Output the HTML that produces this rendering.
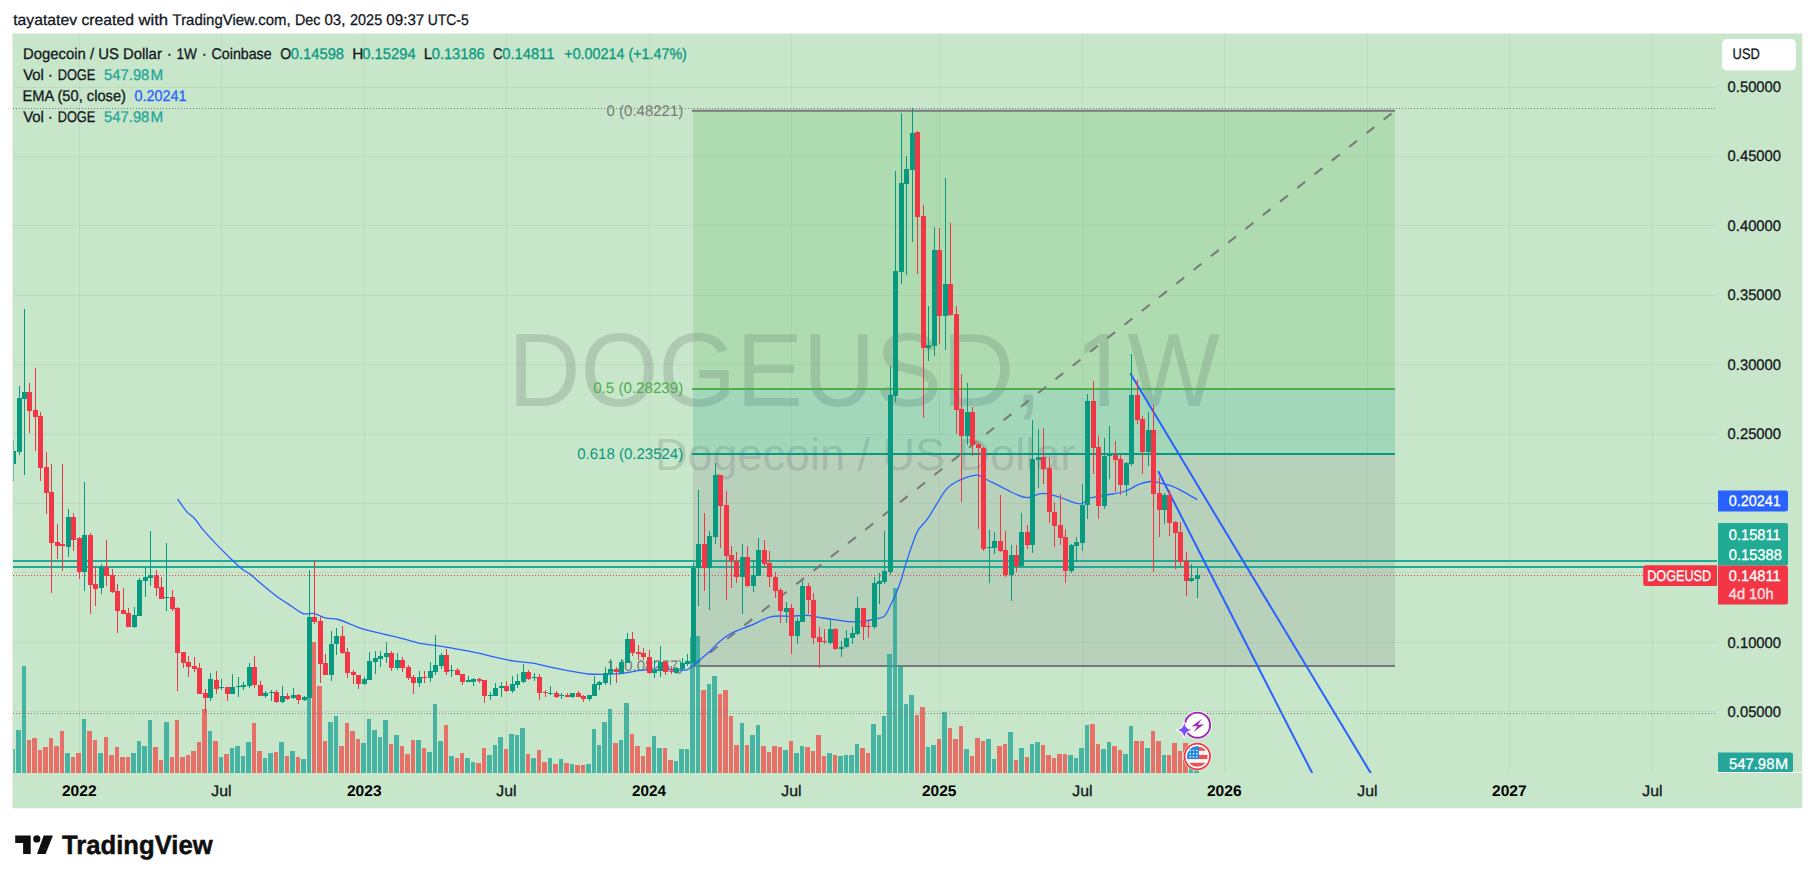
<!DOCTYPE html>
<html lang="en"><head><meta charset="utf-8"><title>DOGEUSD 1W - TradingView chart snapshot</title>
<style>html,body{margin:0;padding:0;background:#fff;}body{width:1815px;height:883px;overflow:hidden;}svg{display:block;}text{font-family:'Liberation Sans', Arial, Helvetica, sans-serif;text-rendering:geometricPrecision;}</style>
</head><body>
<svg width="1815" height="883" viewBox="0 0 1815 883">
<defs><clipPath id="pane"><rect x="13" y="34" width="1704" height="739"/></clipPath>
<clipPath id="flagclip"><circle cx="1197.3" cy="756.5" r="10.3"/></clipPath></defs>
<rect x="0" y="0" width="1815" height="883" fill="#ffffff"/>
<text x="13.26" y="24.8" font-size="15.4" fill="#131722" stroke="#131722" stroke-width="0.3" textLength="63.79" lengthAdjust="spacingAndGlyphs">tayatatev</text>
<text x="81.53" y="24.8" font-size="15.4" fill="#131722" stroke="#131722" stroke-width="0.3" textLength="52.38" lengthAdjust="spacingAndGlyphs">created</text>
<text x="138.42" y="24.8" font-size="15.4" fill="#131722" stroke="#131722" stroke-width="0.3" textLength="29.66" lengthAdjust="spacingAndGlyphs">with</text>
<text x="172.57" y="24.8" font-size="15.4" fill="#131722" stroke="#131722" stroke-width="0.3" textLength="118.06" lengthAdjust="spacingAndGlyphs">TradingView.com,</text>
<text x="295.03" y="24.8" font-size="15.4" fill="#131722" stroke="#131722" stroke-width="0.3" textLength="25.45" lengthAdjust="spacingAndGlyphs">Dec</text>
<text x="324.51" y="24.8" font-size="15.4" fill="#131722" stroke="#131722" stroke-width="0.3" textLength="20.94" lengthAdjust="spacingAndGlyphs">03,</text>
<text x="349.97" y="24.8" font-size="15.4" fill="#131722" stroke="#131722" stroke-width="0.3" textLength="32.24" lengthAdjust="spacingAndGlyphs">2025</text>
<text x="386.31" y="24.8" font-size="15.4" fill="#131722" stroke="#131722" stroke-width="0.3" textLength="37.96" lengthAdjust="spacingAndGlyphs">09:37</text>
<text x="427.72" y="24.8" font-size="15.4" fill="#131722" stroke="#131722" stroke-width="0.3" textLength="41.06" lengthAdjust="spacingAndGlyphs">UTC-5</text>
<rect x="12.5" y="33.5" width="1789.5" height="774.5" fill="#c8e6c9" stroke="#e9ece9" stroke-width="1"/>
<rect x="13" y="34" width="1789" height="774" fill="#c8e6c9"/>
<g fill="rgba(42,46,57,0.06)" shape-rendering="crispEdges">
<rect x="79" y="34" width="1" height="739"/>
<rect x="221" y="34" width="1" height="739"/>
<rect x="364" y="34" width="1" height="739"/>
<rect x="506" y="34" width="1" height="739"/>
<rect x="649" y="34" width="1" height="739"/>
<rect x="791" y="34" width="1" height="739"/>
<rect x="939" y="34" width="1" height="739"/>
<rect x="1082" y="34" width="1" height="739"/>
<rect x="1224" y="34" width="1" height="739"/>
<rect x="1367" y="34" width="1" height="739"/>
<rect x="1509" y="34" width="1" height="739"/>
<rect x="1652" y="34" width="1" height="739"/>
<rect x="13" y="87" width="1704" height="1"/>
<rect x="13" y="156" width="1704" height="1"/>
<rect x="13" y="225" width="1704" height="1"/>
<rect x="13" y="295" width="1704" height="1"/>
<rect x="13" y="364" width="1704" height="1"/>
<rect x="13" y="434" width="1704" height="1"/>
<rect x="13" y="503" width="1704" height="1"/>
<rect x="13" y="572" width="1704" height="1"/>
<rect x="13" y="642" width="1704" height="1"/>
<rect x="13" y="711" width="1704" height="1"/>
</g>
<text x="508.19" y="405.6" font-size="104.4" fill="rgba(80,83,94,0.2)" textLength="533.80" lengthAdjust="spacingAndGlyphs">DOGEUSD,</text>
<clipPath id="one"><rect x="1060" y="320" width="70" height="77.9"/><rect x="1099.4" y="397" width="9.6" height="10"/></clipPath>
<text x="1074.6" y="405.6" font-size="104.4" fill="rgba(80,83,94,0.2)" textLength="55.6" lengthAdjust="spacingAndGlyphs" clip-path="url(#one)">1</text>
<text x="1127.47" y="405.6" font-size="104.4" fill="rgba(80,83,94,0.2)" textLength="92.16" lengthAdjust="spacingAndGlyphs">W</text>
<text x="654.91" y="470.4" font-size="45.2" fill="rgba(80,83,94,0.2)" textLength="420.24" lengthAdjust="spacingAndGlyphs">Dogecoin / US Dollar</text>
<rect x="693" y="110.7" width="702" height="278.3" fill="#4caf50" fill-opacity="0.2"/>
<rect x="693" y="389" width="702" height="65" fill="#089981" fill-opacity="0.2"/>
<rect x="693" y="454" width="702" height="212" fill="#787b86" fill-opacity="0.2"/>
<rect x="13" y="560" width="1704" height="2" fill="#22ab94"/>
<rect x="13" y="566" width="1704" height="2" fill="#22ab94"/>
<line x1="692" y1="110.7" x2="1395" y2="110.7" stroke="#797779" stroke-width="2"/>
<line x1="692" y1="389" x2="1395" y2="389" stroke="#4caf50" stroke-width="2"/>
<line x1="692" y1="454" x2="1395" y2="454" stroke="#089981" stroke-width="2"/>
<line x1="692" y1="666" x2="1395" y2="666" stroke="#797779" stroke-width="2"/>
<line x1="1395" y1="110.7" x2="693" y2="666" stroke="#797779" stroke-width="2" stroke-dasharray="10 12.03" stroke-dashoffset="17.6"/>
<text x="606.61" y="115.8" font-size="15.3" fill="#7a787b" textLength="76.61" lengthAdjust="spacingAndGlyphs">0 (0.48221)</text>
<text x="593.21" y="392.7" font-size="15.3" fill="#4caf50" textLength="90.03" lengthAdjust="spacingAndGlyphs">0.5 (0.28239)</text>
<text x="577.21" y="458.6" font-size="15.3" fill="#089981" textLength="106.02" lengthAdjust="spacingAndGlyphs">0.618 (0.23524)</text>
<text x="606.86" y="670.6" font-size="15.3" fill="#7a787b" textLength="76.36" lengthAdjust="spacingAndGlyphs">1 (0.08257)</text>
<g clip-path="url(#pane)" stroke="#2962ff" stroke-width="2" stroke-linecap="round">
<line x1="1130.7" y1="374.1" x2="1371" y2="773.5"/>
<line x1="1158.5" y1="471.7" x2="1312.4" y2="773.5"/>
</g>
<g clip-path="url(#pane)" shape-rendering="crispEdges" fill-opacity="0.8">
<rect x="13" y="749.2" width="1" height="23.8" fill="#26a69a" fill-opacity="0.45"/>
<rect x="14" y="749.2" width="1" height="23.8" fill="#26a69a"/>
<rect x="16" y="730.4" width="5" height="42.6" fill="#26a69a"/>
<rect x="22" y="666.3" width="4" height="106.7" fill="#26a69a"/>
<rect x="27" y="740.3" width="4" height="32.7" fill="#ef5350"/>
<rect x="32" y="738.3" width="5" height="34.7" fill="#ef5350"/>
<rect x="38" y="750.2" width="4" height="22.8" fill="#ef5350"/>
<rect x="43" y="747.2" width="5" height="25.8" fill="#ef5350"/>
<rect x="49" y="738.3" width="4" height="34.7" fill="#ef5350"/>
<rect x="54" y="746.2" width="5" height="26.8" fill="#ef5350"/>
<rect x="60" y="731.3" width="4" height="41.7" fill="#ef5350"/>
<rect x="65" y="753.2" width="5" height="19.8" fill="#26a69a"/>
<rect x="71" y="757.1" width="4" height="15.9" fill="#ef5350"/>
<rect x="76" y="753.2" width="5" height="19.8" fill="#ef5350"/>
<rect x="82" y="719.4" width="4" height="53.6" fill="#26a69a"/>
<rect x="87" y="731.3" width="5" height="41.7" fill="#ef5350"/>
<rect x="93" y="740.3" width="4" height="32.7" fill="#ef5350"/>
<rect x="98" y="753.2" width="5" height="19.8" fill="#26a69a"/>
<rect x="104" y="737.3" width="4" height="35.7" fill="#ef5350"/>
<rect x="109" y="755.1" width="5" height="17.9" fill="#ef5350"/>
<rect x="115" y="747.2" width="4" height="25.8" fill="#ef5350"/>
<rect x="120" y="757.1" width="5" height="15.9" fill="#ef5350"/>
<rect x="126" y="757.1" width="4" height="15.9" fill="#ef5350"/>
<rect x="131" y="753.2" width="5" height="19.8" fill="#26a69a"/>
<rect x="137" y="741.3" width="4" height="31.7" fill="#26a69a"/>
<rect x="142" y="746.2" width="5" height="26.8" fill="#26a69a"/>
<rect x="148" y="720.4" width="4" height="52.6" fill="#26a69a"/>
<rect x="153" y="747.2" width="5" height="25.8" fill="#ef5350"/>
<rect x="159" y="760.1" width="4" height="12.9" fill="#ef5350"/>
<rect x="164" y="722.4" width="5" height="50.6" fill="#26a69a"/>
<rect x="170" y="757.1" width="4" height="15.9" fill="#ef5350"/>
<rect x="175" y="720.4" width="4" height="52.6" fill="#ef5350"/>
<rect x="180" y="757.1" width="5" height="15.9" fill="#ef5350"/>
<rect x="186" y="755.1" width="4" height="17.9" fill="#ef5350"/>
<rect x="191" y="751.2" width="5" height="21.8" fill="#ef5350"/>
<rect x="197" y="742.3" width="4" height="30.7" fill="#ef5350"/>
<rect x="202" y="708.5" width="5" height="64.5" fill="#ef5350"/>
<rect x="208" y="731.3" width="4" height="41.7" fill="#26a69a"/>
<rect x="213" y="741.3" width="5" height="31.7" fill="#ef5350"/>
<rect x="219" y="757.1" width="4" height="15.9" fill="#26a69a"/>
<rect x="224" y="754.2" width="5" height="18.8" fill="#ef5350"/>
<rect x="230" y="748.2" width="4" height="24.8" fill="#26a69a"/>
<rect x="235" y="746.2" width="5" height="26.8" fill="#26a69a"/>
<rect x="241" y="756.1" width="4" height="16.9" fill="#26a69a"/>
<rect x="246" y="742.3" width="5" height="30.7" fill="#26a69a"/>
<rect x="252" y="723.4" width="4" height="49.6" fill="#ef5350"/>
<rect x="257" y="751.2" width="5" height="21.8" fill="#ef5350"/>
<rect x="263" y="758.1" width="4" height="14.9" fill="#26a69a"/>
<rect x="268" y="753.2" width="5" height="19.8" fill="#26a69a"/>
<rect x="274" y="752.2" width="4" height="20.8" fill="#ef5350"/>
<rect x="279" y="742.3" width="5" height="30.7" fill="#26a69a"/>
<rect x="285" y="756.1" width="4" height="16.9" fill="#ef5350"/>
<rect x="290" y="751.2" width="5" height="21.8" fill="#26a69a"/>
<rect x="296" y="757.1" width="4" height="15.9" fill="#ef5350"/>
<rect x="301" y="759.1" width="5" height="13.9" fill="#26a69a"/>
<rect x="307" y="623.0" width="4" height="150.0" fill="#26a69a"/>
<rect x="312" y="642.1" width="4" height="130.9" fill="#ef5350"/>
<rect x="317" y="686.2" width="5" height="86.8" fill="#ef5350"/>
<rect x="323" y="741.3" width="4" height="31.7" fill="#ef5350"/>
<rect x="328" y="722.4" width="5" height="50.6" fill="#26a69a"/>
<rect x="334" y="715.5" width="4" height="57.5" fill="#26a69a"/>
<rect x="339" y="746.2" width="5" height="26.8" fill="#ef5350"/>
<rect x="345" y="723.4" width="4" height="49.6" fill="#ef5350"/>
<rect x="350" y="731.3" width="5" height="41.7" fill="#ef5350"/>
<rect x="356" y="739.3" width="4" height="33.7" fill="#ef5350"/>
<rect x="361" y="743.2" width="5" height="29.8" fill="#26a69a"/>
<rect x="367" y="718.5" width="4" height="54.5" fill="#26a69a"/>
<rect x="372" y="730.4" width="5" height="42.6" fill="#26a69a"/>
<rect x="378" y="737.3" width="4" height="35.7" fill="#26a69a"/>
<rect x="383" y="720.4" width="5" height="52.6" fill="#26a69a"/>
<rect x="389" y="744.2" width="4" height="28.8" fill="#ef5350"/>
<rect x="394" y="735.3" width="5" height="37.7" fill="#26a69a"/>
<rect x="400" y="746.2" width="4" height="26.8" fill="#ef5350"/>
<rect x="405" y="754.2" width="5" height="18.8" fill="#ef5350"/>
<rect x="411" y="740.3" width="4" height="32.7" fill="#ef5350"/>
<rect x="416" y="740.3" width="5" height="32.7" fill="#26a69a"/>
<rect x="422" y="748.2" width="4" height="24.8" fill="#ef5350"/>
<rect x="427" y="752.2" width="5" height="20.8" fill="#26a69a"/>
<rect x="433" y="704.2" width="4" height="68.8" fill="#26a69a"/>
<rect x="438" y="741.3" width="5" height="31.7" fill="#26a69a"/>
<rect x="444" y="725.4" width="4" height="47.6" fill="#ef5350"/>
<rect x="449" y="756.1" width="5" height="16.9" fill="#26a69a"/>
<rect x="455" y="758.1" width="4" height="14.9" fill="#ef5350"/>
<rect x="460" y="753.2" width="4" height="19.8" fill="#ef5350"/>
<rect x="465" y="758.1" width="5" height="14.9" fill="#26a69a"/>
<rect x="471" y="762.1" width="4" height="10.9" fill="#26a69a"/>
<rect x="476" y="763.1" width="5" height="9.9" fill="#ef5350"/>
<rect x="482" y="748.2" width="4" height="24.8" fill="#ef5350"/>
<rect x="487" y="755.1" width="5" height="17.9" fill="#26a69a"/>
<rect x="493" y="745.2" width="4" height="27.8" fill="#26a69a"/>
<rect x="498" y="737.3" width="5" height="35.7" fill="#26a69a"/>
<rect x="504" y="749.2" width="4" height="23.8" fill="#ef5350"/>
<rect x="509" y="734.3" width="5" height="38.7" fill="#26a69a"/>
<rect x="515" y="735.3" width="4" height="37.7" fill="#26a69a"/>
<rect x="520" y="728.4" width="5" height="44.6" fill="#26a69a"/>
<rect x="526" y="754.2" width="4" height="18.8" fill="#ef5350"/>
<rect x="531" y="758.1" width="5" height="14.9" fill="#26a69a"/>
<rect x="537" y="750.2" width="4" height="22.8" fill="#ef5350"/>
<rect x="542" y="762.1" width="5" height="10.9" fill="#ef5350"/>
<rect x="548" y="758.1" width="4" height="14.9" fill="#26a69a"/>
<rect x="553" y="764.1" width="5" height="8.9" fill="#ef5350"/>
<rect x="559" y="759.1" width="4" height="13.9" fill="#26a69a"/>
<rect x="564" y="763.1" width="5" height="9.9" fill="#ef5350"/>
<rect x="570" y="764.1" width="4" height="8.9" fill="#26a69a"/>
<rect x="575" y="765.1" width="5" height="7.9" fill="#ef5350"/>
<rect x="581" y="765.1" width="4" height="7.9" fill="#ef5350"/>
<rect x="586" y="764.1" width="5" height="8.9" fill="#26a69a"/>
<rect x="592" y="729.4" width="4" height="43.6" fill="#26a69a"/>
<rect x="597" y="745.2" width="4" height="27.8" fill="#26a69a"/>
<rect x="602" y="722.4" width="5" height="50.6" fill="#26a69a"/>
<rect x="608" y="708.5" width="4" height="64.5" fill="#26a69a"/>
<rect x="613" y="743.2" width="5" height="29.8" fill="#ef5350"/>
<rect x="619" y="740.3" width="4" height="32.7" fill="#26a69a"/>
<rect x="624" y="703.2" width="5" height="69.8" fill="#26a69a"/>
<rect x="630" y="734.3" width="4" height="38.7" fill="#ef5350"/>
<rect x="635" y="746.2" width="5" height="26.8" fill="#ef5350"/>
<rect x="641" y="756.1" width="4" height="16.9" fill="#ef5350"/>
<rect x="646" y="747.2" width="5" height="25.8" fill="#ef5350"/>
<rect x="652" y="736.3" width="4" height="36.7" fill="#26a69a"/>
<rect x="657" y="748.2" width="5" height="24.8" fill="#26a69a"/>
<rect x="663" y="748.2" width="4" height="24.8" fill="#ef5350"/>
<rect x="668" y="760.1" width="5" height="12.9" fill="#ef5350"/>
<rect x="674" y="761.1" width="4" height="11.9" fill="#26a69a"/>
<rect x="679" y="749.2" width="5" height="23.8" fill="#26a69a"/>
<rect x="685" y="749.2" width="4" height="23.8" fill="#26a69a"/>
<rect x="690" y="637.3" width="5" height="135.7" fill="#26a69a"/>
<rect x="696" y="636.3" width="4" height="136.7" fill="#26a69a"/>
<rect x="701" y="690.3" width="5" height="82.7" fill="#ef5350"/>
<rect x="707" y="684.3" width="4" height="88.7" fill="#26a69a"/>
<rect x="712" y="676.4" width="5" height="96.6" fill="#26a69a"/>
<rect x="718" y="694.2" width="4" height="78.8" fill="#ef5350"/>
<rect x="723" y="690.3" width="5" height="82.7" fill="#ef5350"/>
<rect x="729" y="715.5" width="4" height="57.5" fill="#ef5350"/>
<rect x="734" y="745.2" width="5" height="27.8" fill="#ef5350"/>
<rect x="740" y="723.4" width="4" height="49.6" fill="#26a69a"/>
<rect x="745" y="745.2" width="4" height="27.8" fill="#ef5350"/>
<rect x="750" y="735.3" width="5" height="37.7" fill="#26a69a"/>
<rect x="756" y="725.4" width="4" height="47.6" fill="#26a69a"/>
<rect x="761" y="746.2" width="5" height="26.8" fill="#ef5350"/>
<rect x="767" y="752.2" width="4" height="20.8" fill="#ef5350"/>
<rect x="772" y="746.2" width="5" height="26.8" fill="#ef5350"/>
<rect x="778" y="747.2" width="4" height="25.8" fill="#ef5350"/>
<rect x="783" y="750.2" width="5" height="22.8" fill="#26a69a"/>
<rect x="789" y="741.3" width="4" height="31.7" fill="#ef5350"/>
<rect x="794" y="753.2" width="5" height="19.8" fill="#26a69a"/>
<rect x="800" y="746.2" width="4" height="26.8" fill="#26a69a"/>
<rect x="805" y="747.2" width="5" height="25.8" fill="#ef5350"/>
<rect x="811" y="751.2" width="4" height="21.8" fill="#ef5350"/>
<rect x="816" y="735.3" width="5" height="37.7" fill="#ef5350"/>
<rect x="822" y="756.1" width="4" height="16.9" fill="#ef5350"/>
<rect x="827" y="753.2" width="5" height="19.8" fill="#26a69a"/>
<rect x="833" y="755.1" width="4" height="17.9" fill="#ef5350"/>
<rect x="838" y="756.1" width="5" height="16.9" fill="#26a69a"/>
<rect x="844" y="755.1" width="4" height="17.9" fill="#26a69a"/>
<rect x="849" y="755.1" width="5" height="17.9" fill="#26a69a"/>
<rect x="855" y="744.2" width="4" height="28.8" fill="#26a69a"/>
<rect x="860" y="748.2" width="5" height="24.8" fill="#ef5350"/>
<rect x="866" y="753.2" width="4" height="19.8" fill="#ef5350"/>
<rect x="871" y="724.4" width="5" height="48.6" fill="#26a69a"/>
<rect x="877" y="735.3" width="4" height="37.7" fill="#26a69a"/>
<rect x="882" y="715.5" width="4" height="57.5" fill="#26a69a"/>
<rect x="887" y="654.2" width="5" height="118.8" fill="#26a69a"/>
<rect x="893" y="588.2" width="4" height="184.8" fill="#26a69a"/>
<rect x="898" y="665.5" width="5" height="107.5" fill="#26a69a"/>
<rect x="904" y="704.2" width="4" height="68.8" fill="#26a69a"/>
<rect x="909" y="695.2" width="5" height="77.8" fill="#26a69a"/>
<rect x="915" y="714.5" width="4" height="58.5" fill="#ef5350"/>
<rect x="920" y="706.6" width="5" height="66.4" fill="#ef5350"/>
<rect x="926" y="747.2" width="4" height="25.8" fill="#26a69a"/>
<rect x="931" y="745.2" width="5" height="27.8" fill="#26a69a"/>
<rect x="937" y="739.3" width="4" height="33.7" fill="#ef5350"/>
<rect x="942" y="711.5" width="5" height="61.5" fill="#26a69a"/>
<rect x="948" y="728.4" width="4" height="44.6" fill="#ef5350"/>
<rect x="953" y="739.3" width="5" height="33.7" fill="#ef5350"/>
<rect x="959" y="726.4" width="4" height="46.6" fill="#ef5350"/>
<rect x="964" y="749.2" width="5" height="23.8" fill="#26a69a"/>
<rect x="970" y="756.1" width="4" height="16.9" fill="#ef5350"/>
<rect x="975" y="738.3" width="5" height="34.7" fill="#ef5350"/>
<rect x="981" y="741.3" width="4" height="31.7" fill="#ef5350"/>
<rect x="986" y="739.3" width="5" height="33.7" fill="#26a69a"/>
<rect x="992" y="759.1" width="4" height="13.9" fill="#26a69a"/>
<rect x="997" y="746.2" width="5" height="26.8" fill="#ef5350"/>
<rect x="1003" y="744.2" width="4" height="28.8" fill="#ef5350"/>
<rect x="1008" y="732.3" width="5" height="40.7" fill="#26a69a"/>
<rect x="1014" y="760.1" width="4" height="12.9" fill="#ef5350"/>
<rect x="1019" y="748.2" width="5" height="24.8" fill="#26a69a"/>
<rect x="1025" y="757.1" width="4" height="15.9" fill="#ef5350"/>
<rect x="1030" y="744.1" width="4" height="28.9" fill="#26a69a"/>
<rect x="1035" y="742.1" width="5" height="30.9" fill="#26a69a"/>
<rect x="1041" y="745.2" width="4" height="27.8" fill="#ef5350"/>
<rect x="1046" y="755.1" width="5" height="17.9" fill="#ef5350"/>
<rect x="1052" y="758.1" width="4" height="14.9" fill="#ef5350"/>
<rect x="1057" y="754.0" width="5" height="19.0" fill="#ef5350"/>
<rect x="1063" y="754.0" width="4" height="19.0" fill="#ef5350"/>
<rect x="1068" y="755.1" width="5" height="17.9" fill="#26a69a"/>
<rect x="1074" y="758.1" width="4" height="14.9" fill="#26a69a"/>
<rect x="1079" y="748.2" width="5" height="24.8" fill="#26a69a"/>
<rect x="1085" y="725.2" width="4" height="47.8" fill="#26a69a"/>
<rect x="1090" y="724.2" width="5" height="48.8" fill="#ef5350"/>
<rect x="1096" y="744.1" width="4" height="28.9" fill="#ef5350"/>
<rect x="1101" y="749.2" width="5" height="23.8" fill="#26a69a"/>
<rect x="1107" y="742.1" width="4" height="30.9" fill="#26a69a"/>
<rect x="1112" y="746.1" width="5" height="26.9" fill="#ef5350"/>
<rect x="1118" y="750.2" width="4" height="22.8" fill="#ef5350"/>
<rect x="1123" y="754.0" width="5" height="19.0" fill="#26a69a"/>
<rect x="1129" y="726.2" width="4" height="46.8" fill="#26a69a"/>
<rect x="1134" y="741.2" width="5" height="31.8" fill="#ef5350"/>
<rect x="1140" y="741.2" width="4" height="31.8" fill="#ef5350"/>
<rect x="1145" y="748.2" width="5" height="24.8" fill="#26a69a"/>
<rect x="1151" y="731.1" width="4" height="41.9" fill="#ef5350"/>
<rect x="1156" y="741.2" width="5" height="31.8" fill="#ef5350"/>
<rect x="1162" y="755.1" width="4" height="17.9" fill="#26a69a"/>
<rect x="1167" y="755.1" width="4" height="17.9" fill="#ef5350"/>
<rect x="1172" y="743.1" width="5" height="29.9" fill="#ef5350"/>
<rect x="1178" y="751.1" width="4" height="21.9" fill="#ef5350"/>
<rect x="1183" y="743.1" width="5" height="29.9" fill="#ef5350"/>
<rect x="1189" y="751.0" width="4" height="22.0" fill="#26a69a"/>
<rect x="1194" y="761.0" width="5" height="12.0" fill="#26a69a"/>
</g>
<line x1="13" y1="108.5" x2="1715" y2="108.5" stroke="#777777" stroke-width="1" stroke-dasharray="1 2"/>
<line x1="13" y1="713.5" x2="1715" y2="713.5" stroke="#777777" stroke-width="1" stroke-dasharray="1 2"/>
<line x1="13" y1="575.5" x2="1717" y2="575.5" stroke="#f23645" stroke-width="1" stroke-dasharray="1 2"/>
<path d="M177.6 498.9 C179.1 501.0 183.7 508.2 186.5 511.4 C189.3 514.6 191.6 515.2 194.4 518.3 C197.2 521.4 199.9 526.1 203.4 530.2 C206.9 534.3 210.5 538.1 215.3 543.1 C220.1 548.1 227.7 555.7 232.1 560.0 C236.5 564.3 238.8 566.4 242.0 568.9 C245.2 571.4 248.2 572.8 251.0 574.9 C253.8 577.0 254.8 578.3 258.9 581.8 C263.0 585.3 271.0 592.1 275.8 595.7 C280.6 599.3 283.2 600.7 287.7 603.6 C292.1 606.5 298.1 611.6 302.5 613.3 C306.9 615.0 310.6 612.8 314.4 613.6 C318.2 614.4 321.3 616.9 325.3 617.9 C329.3 618.9 333.9 618.4 338.2 619.5 C342.5 620.6 347.3 623.0 351.1 624.5 C354.9 626.0 357.5 627.2 361.0 628.4 C364.5 629.5 367.4 630.3 371.9 631.4 C376.4 632.5 382.2 633.7 387.8 635.0 C393.4 636.3 400.3 637.9 405.6 639.3 C410.9 640.7 414.5 642.3 419.5 643.3 C424.5 644.3 429.8 644.5 435.4 645.3 C441.0 646.1 445.9 647.0 453.2 648.3 C460.5 649.6 472.1 651.7 479.0 653.2 C485.9 654.7 488.9 655.9 494.9 657.2 C500.8 658.5 508.4 660.2 514.7 661.2 C521.0 662.2 526.5 662.1 532.5 663.1 C538.5 664.1 544.1 665.8 550.4 667.1 C556.7 668.4 563.9 670.0 570.2 671.1 C576.5 672.2 582.5 673.5 588.1 674.0 C593.7 674.5 598.0 674.5 603.9 674.4 C609.8 674.2 617.5 673.8 623.8 673.1 C630.1 672.4 636.0 670.6 641.6 670.1 C647.2 669.6 652.5 670.2 657.5 670.1 C662.5 670.0 667.6 669.3 671.4 669.3 C675.1 669.3 677.2 670.2 680.0 670.2 C682.8 670.2 684.9 670.8 687.9 669.3 C690.9 667.8 694.2 664.3 697.8 661.3 C701.4 658.3 706.1 654.7 709.7 651.4 C713.4 648.1 716.1 644.5 719.7 641.5 C723.4 638.5 726.3 635.9 731.6 633.2 C736.9 630.5 744.8 628.0 751.4 625.2 C758.0 622.5 764.6 618.2 771.2 616.7 C777.8 615.2 785.2 616.5 791.1 616.3 C797.0 616.1 802.3 615.1 806.9 615.3 C811.5 615.5 814.2 616.6 818.8 617.3 C823.4 618.0 829.4 619.0 834.7 619.7 C840.0 620.4 846.0 621.4 850.6 621.7 C855.2 622.0 857.9 621.9 862.5 621.3 C867.1 620.7 874.8 619.1 878.4 618.3 C882.0 617.5 882.8 617.4 884.3 616.3 C885.8 615.2 886.3 613.5 887.3 611.7 C888.3 610.0 888.7 608.9 890.2 605.8 C891.7 602.7 894.4 597.6 896.2 593.3 C898.0 589.0 899.5 585.0 901.1 580.0 C902.8 575.0 903.5 571.0 906.1 563.0 C908.8 555.0 913.4 539.7 917.0 532.2 C920.6 524.8 923.4 524.9 927.9 518.3 C932.4 511.7 939.8 498.2 943.8 492.6 C947.8 487.0 948.1 487.1 951.7 484.6 C955.3 482.1 961.3 479.3 965.6 477.7 C969.9 476.1 974.0 474.8 977.6 475.2 C981.2 475.6 983.7 478.1 987.5 480.0 C991.3 481.9 995.8 484.0 1000.4 486.3 C1005.0 488.6 1010.8 492.1 1015.3 494.0 C1019.8 495.9 1022.6 497.8 1027.2 497.7 C1031.8 497.6 1037.8 493.5 1043.1 493.4 C1048.4 493.3 1053.4 495.3 1059.0 497.0 C1064.6 498.7 1072.9 502.4 1076.9 503.4 C1080.9 504.4 1080.5 503.9 1082.8 503.0 C1085.1 502.1 1086.7 499.3 1090.7 498.0 C1094.7 496.7 1101.0 496.1 1106.6 495.0 C1112.2 493.9 1119.2 493.2 1124.5 491.5 C1129.8 489.8 1134.0 486.4 1138.3 484.7 C1142.6 483.0 1146.6 481.8 1150.2 481.5 C1153.8 481.2 1156.5 482.3 1160.1 483.1 C1163.7 483.9 1168.0 484.6 1172.0 486.1 C1176.0 487.6 1179.8 489.9 1184.0 492.1 C1188.2 494.4 1195.0 498.4 1197.2 499.6" fill="none" stroke="#2962ff" stroke-width="1.3" stroke-linejoin="round"/>
<g clip-path="url(#pane)" shape-rendering="crispEdges">
<rect x="13" y="440" width="1" height="41" fill="#089981" fill-opacity="0.5"/>
<rect x="14" y="451" width="2" height="13" fill="#089981"/>
<rect x="19" y="386" width="1" height="69" fill="#089981"/>
<rect x="17" y="398" width="5" height="54" fill="#089981"/>
<rect x="24" y="309" width="1" height="166" fill="#089981"/>
<rect x="22" y="392" width="5" height="7" fill="#089981"/>
<rect x="29" y="383" width="1" height="50" fill="#f23645"/>
<rect x="27" y="392" width="5" height="19" fill="#f23645"/>
<rect x="35" y="368" width="1" height="83" fill="#f23645"/>
<rect x="33" y="410" width="5" height="7" fill="#f23645"/>
<rect x="40" y="412" width="1" height="69" fill="#f23645"/>
<rect x="38" y="416" width="5" height="52" fill="#f23645"/>
<rect x="46" y="452" width="1" height="62" fill="#f23645"/>
<rect x="44" y="467" width="5" height="26" fill="#f23645"/>
<rect x="51" y="464" width="1" height="129" fill="#f23645"/>
<rect x="49" y="492" width="5" height="51" fill="#f23645"/>
<rect x="57" y="524" width="1" height="35" fill="#f23645"/>
<rect x="55" y="542" width="5" height="4" fill="#f23645"/>
<rect x="62" y="464" width="1" height="107" fill="#f23645"/>
<rect x="60" y="544" width="5" height="2" fill="#f23645"/>
<rect x="68" y="509" width="1" height="48" fill="#089981"/>
<rect x="66" y="517" width="5" height="30" fill="#089981"/>
<rect x="73" y="513" width="1" height="38" fill="#f23645"/>
<rect x="71" y="517" width="5" height="23" fill="#f23645"/>
<rect x="79" y="537" width="1" height="42" fill="#f23645"/>
<rect x="77" y="538" width="5" height="34" fill="#f23645"/>
<rect x="84" y="482" width="1" height="109" fill="#089981"/>
<rect x="82" y="535" width="5" height="37" fill="#089981"/>
<rect x="90" y="533" width="1" height="81" fill="#f23645"/>
<rect x="88" y="535" width="5" height="50" fill="#f23645"/>
<rect x="95" y="567" width="1" height="39" fill="#f23645"/>
<rect x="93" y="584" width="5" height="5" fill="#f23645"/>
<rect x="101" y="564" width="1" height="30" fill="#089981"/>
<rect x="99" y="567" width="5" height="21" fill="#089981"/>
<rect x="106" y="540" width="1" height="46" fill="#f23645"/>
<rect x="104" y="567" width="5" height="9" fill="#f23645"/>
<rect x="112" y="569" width="1" height="24" fill="#f23645"/>
<rect x="110" y="575" width="5" height="17" fill="#f23645"/>
<rect x="117" y="584" width="1" height="49" fill="#f23645"/>
<rect x="115" y="591" width="5" height="20" fill="#f23645"/>
<rect x="123" y="588" width="1" height="26" fill="#f23645"/>
<rect x="121" y="610" width="5" height="4" fill="#f23645"/>
<rect x="128" y="608" width="1" height="19" fill="#f23645"/>
<rect x="126" y="613" width="5" height="14" fill="#f23645"/>
<rect x="134" y="607" width="1" height="21" fill="#089981"/>
<rect x="132" y="615" width="5" height="12" fill="#089981"/>
<rect x="139" y="578" width="1" height="38" fill="#089981"/>
<rect x="137" y="580" width="5" height="36" fill="#089981"/>
<rect x="145" y="568" width="1" height="29" fill="#089981"/>
<rect x="143" y="577" width="5" height="4" fill="#089981"/>
<rect x="150" y="531" width="1" height="55" fill="#089981"/>
<rect x="148" y="575" width="5" height="3" fill="#089981"/>
<rect x="156" y="570" width="1" height="26" fill="#f23645"/>
<rect x="154" y="575" width="5" height="13" fill="#f23645"/>
<rect x="161" y="577" width="1" height="22" fill="#f23645"/>
<rect x="159" y="587" width="5" height="12" fill="#f23645"/>
<rect x="166" y="543" width="1" height="68" fill="#089981"/>
<rect x="164" y="597" width="5" height="1" fill="#089981"/>
<rect x="172" y="590" width="1" height="21" fill="#f23645"/>
<rect x="170" y="597" width="5" height="12" fill="#f23645"/>
<rect x="177" y="607" width="1" height="84" fill="#f23645"/>
<rect x="175" y="608" width="5" height="45" fill="#f23645"/>
<rect x="183" y="652" width="1" height="16" fill="#f23645"/>
<rect x="181" y="652" width="5" height="11" fill="#f23645"/>
<rect x="188" y="656" width="1" height="21" fill="#f23645"/>
<rect x="186" y="662" width="5" height="5" fill="#f23645"/>
<rect x="194" y="657" width="1" height="15" fill="#f23645"/>
<rect x="192" y="666" width="5" height="3" fill="#f23645"/>
<rect x="199" y="663" width="1" height="31" fill="#f23645"/>
<rect x="197" y="668" width="5" height="26" fill="#f23645"/>
<rect x="205" y="689" width="1" height="24" fill="#f23645"/>
<rect x="203" y="693" width="5" height="5" fill="#f23645"/>
<rect x="210" y="673" width="1" height="28" fill="#089981"/>
<rect x="208" y="679" width="5" height="19" fill="#089981"/>
<rect x="216" y="671" width="1" height="23" fill="#f23645"/>
<rect x="214" y="680" width="5" height="9" fill="#f23645"/>
<rect x="221" y="679" width="1" height="11" fill="#089981"/>
<rect x="219" y="687" width="5" height="1" fill="#089981"/>
<rect x="227" y="687" width="1" height="14" fill="#f23645"/>
<rect x="225" y="687" width="5" height="7" fill="#f23645"/>
<rect x="232" y="674" width="1" height="20" fill="#089981"/>
<rect x="230" y="687" width="5" height="7" fill="#089981"/>
<rect x="238" y="677" width="1" height="20" fill="#089981"/>
<rect x="236" y="686" width="5" height="1" fill="#089981"/>
<rect x="243" y="682" width="1" height="8" fill="#089981"/>
<rect x="241" y="685" width="5" height="2" fill="#089981"/>
<rect x="249" y="663" width="1" height="25" fill="#089981"/>
<rect x="247" y="667" width="5" height="19" fill="#089981"/>
<rect x="254" y="656" width="1" height="32" fill="#f23645"/>
<rect x="252" y="667" width="5" height="18" fill="#f23645"/>
<rect x="260" y="681" width="1" height="15" fill="#f23645"/>
<rect x="258" y="685" width="5" height="11" fill="#f23645"/>
<rect x="265" y="691" width="1" height="7" fill="#089981"/>
<rect x="263" y="693" width="5" height="3" fill="#089981"/>
<rect x="271" y="690" width="1" height="11" fill="#089981"/>
<rect x="269" y="692" width="5" height="1" fill="#089981"/>
<rect x="276" y="690" width="1" height="13" fill="#f23645"/>
<rect x="274" y="692" width="5" height="10" fill="#f23645"/>
<rect x="282" y="686" width="1" height="17" fill="#089981"/>
<rect x="280" y="696" width="5" height="6" fill="#089981"/>
<rect x="287" y="693" width="1" height="7" fill="#f23645"/>
<rect x="285" y="696" width="5" height="3" fill="#f23645"/>
<rect x="293" y="688" width="1" height="11" fill="#089981"/>
<rect x="291" y="695" width="5" height="3" fill="#089981"/>
<rect x="298" y="694" width="1" height="10" fill="#f23645"/>
<rect x="296" y="695" width="5" height="5" fill="#f23645"/>
<rect x="304" y="696" width="1" height="5" fill="#089981"/>
<rect x="302" y="697" width="5" height="3" fill="#089981"/>
<rect x="309" y="570" width="1" height="128" fill="#089981"/>
<rect x="307" y="617" width="5" height="81" fill="#089981"/>
<rect x="314" y="560" width="1" height="64" fill="#f23645"/>
<rect x="312" y="617" width="5" height="5" fill="#f23645"/>
<rect x="320" y="616" width="1" height="67" fill="#f23645"/>
<rect x="318" y="621" width="5" height="43" fill="#f23645"/>
<rect x="325" y="654" width="1" height="21" fill="#f23645"/>
<rect x="323" y="663" width="5" height="12" fill="#f23645"/>
<rect x="331" y="631" width="1" height="50" fill="#089981"/>
<rect x="329" y="644" width="5" height="31" fill="#089981"/>
<rect x="336" y="628" width="1" height="27" fill="#089981"/>
<rect x="334" y="636" width="5" height="8" fill="#089981"/>
<rect x="342" y="626" width="1" height="28" fill="#f23645"/>
<rect x="340" y="636" width="5" height="17" fill="#f23645"/>
<rect x="347" y="648" width="1" height="30" fill="#f23645"/>
<rect x="345" y="652" width="5" height="21" fill="#f23645"/>
<rect x="353" y="670" width="1" height="14" fill="#f23645"/>
<rect x="351" y="672" width="5" height="3" fill="#f23645"/>
<rect x="358" y="675" width="1" height="14" fill="#f23645"/>
<rect x="356" y="675" width="5" height="9" fill="#f23645"/>
<rect x="364" y="677" width="1" height="8" fill="#089981"/>
<rect x="362" y="679" width="5" height="5" fill="#089981"/>
<rect x="369" y="652" width="1" height="28" fill="#089981"/>
<rect x="367" y="661" width="5" height="19" fill="#089981"/>
<rect x="375" y="651" width="1" height="23" fill="#089981"/>
<rect x="373" y="658" width="5" height="4" fill="#089981"/>
<rect x="380" y="651" width="1" height="16" fill="#089981"/>
<rect x="378" y="656" width="5" height="3" fill="#089981"/>
<rect x="386" y="642" width="1" height="21" fill="#089981"/>
<rect x="384" y="653" width="5" height="4" fill="#089981"/>
<rect x="391" y="651" width="1" height="20" fill="#f23645"/>
<rect x="389" y="653" width="5" height="15" fill="#f23645"/>
<rect x="397" y="653" width="1" height="17" fill="#089981"/>
<rect x="395" y="660" width="5" height="8" fill="#089981"/>
<rect x="402" y="657" width="1" height="15" fill="#f23645"/>
<rect x="400" y="660" width="5" height="8" fill="#f23645"/>
<rect x="408" y="665" width="1" height="15" fill="#f23645"/>
<rect x="406" y="667" width="5" height="11" fill="#f23645"/>
<rect x="413" y="675" width="1" height="19" fill="#f23645"/>
<rect x="411" y="677" width="5" height="6" fill="#f23645"/>
<rect x="419" y="671" width="1" height="16" fill="#089981"/>
<rect x="417" y="677" width="5" height="6" fill="#089981"/>
<rect x="424" y="671" width="1" height="12" fill="#f23645"/>
<rect x="422" y="677" width="5" height="1" fill="#f23645"/>
<rect x="430" y="662" width="1" height="20" fill="#089981"/>
<rect x="428" y="671" width="5" height="7" fill="#089981"/>
<rect x="435" y="635" width="1" height="40" fill="#089981"/>
<rect x="433" y="665" width="5" height="7" fill="#089981"/>
<rect x="441" y="653" width="1" height="16" fill="#089981"/>
<rect x="439" y="655" width="5" height="11" fill="#089981"/>
<rect x="446" y="649" width="1" height="26" fill="#f23645"/>
<rect x="444" y="655" width="5" height="17" fill="#f23645"/>
<rect x="451" y="665" width="1" height="12" fill="#089981"/>
<rect x="449" y="670" width="5" height="1" fill="#089981"/>
<rect x="457" y="668" width="1" height="7" fill="#f23645"/>
<rect x="455" y="670" width="5" height="5" fill="#f23645"/>
<rect x="462" y="674" width="1" height="11" fill="#f23645"/>
<rect x="460" y="674" width="5" height="8" fill="#f23645"/>
<rect x="468" y="676" width="1" height="6" fill="#089981"/>
<rect x="466" y="680" width="5" height="2" fill="#089981"/>
<rect x="473" y="678" width="1" height="8" fill="#089981"/>
<rect x="471" y="679" width="5" height="3" fill="#089981"/>
<rect x="479" y="678" width="1" height="5" fill="#f23645"/>
<rect x="477" y="679" width="5" height="2" fill="#f23645"/>
<rect x="484" y="680" width="1" height="23" fill="#f23645"/>
<rect x="482" y="680" width="5" height="16" fill="#f23645"/>
<rect x="490" y="692" width="1" height="8" fill="#089981"/>
<rect x="488" y="695" width="5" height="1" fill="#089981"/>
<rect x="495" y="683" width="1" height="13" fill="#089981"/>
<rect x="493" y="688" width="5" height="8" fill="#089981"/>
<rect x="501" y="682" width="1" height="15" fill="#089981"/>
<rect x="499" y="686" width="5" height="2" fill="#089981"/>
<rect x="506" y="681" width="1" height="11" fill="#f23645"/>
<rect x="504" y="686" width="5" height="5" fill="#f23645"/>
<rect x="512" y="676" width="1" height="17" fill="#089981"/>
<rect x="510" y="684" width="5" height="7" fill="#089981"/>
<rect x="517" y="674" width="1" height="14" fill="#089981"/>
<rect x="515" y="681" width="5" height="4" fill="#089981"/>
<rect x="523" y="664" width="1" height="19" fill="#089981"/>
<rect x="521" y="672" width="5" height="10" fill="#089981"/>
<rect x="528" y="670" width="1" height="10" fill="#f23645"/>
<rect x="526" y="672" width="5" height="7" fill="#f23645"/>
<rect x="534" y="673" width="1" height="8" fill="#089981"/>
<rect x="532" y="677" width="5" height="1" fill="#089981"/>
<rect x="539" y="674" width="1" height="26" fill="#f23645"/>
<rect x="537" y="677" width="5" height="16" fill="#f23645"/>
<rect x="545" y="690" width="1" height="7" fill="#f23645"/>
<rect x="543" y="692" width="5" height="1" fill="#f23645"/>
<rect x="550" y="686" width="1" height="9" fill="#089981"/>
<rect x="548" y="693" width="5" height="1" fill="#089981"/>
<rect x="556" y="691" width="1" height="7" fill="#f23645"/>
<rect x="554" y="693" width="5" height="4" fill="#f23645"/>
<rect x="561" y="693" width="1" height="6" fill="#089981"/>
<rect x="559" y="695" width="5" height="1" fill="#089981"/>
<rect x="567" y="693" width="1" height="4" fill="#f23645"/>
<rect x="565" y="695" width="5" height="2" fill="#f23645"/>
<rect x="572" y="693" width="1" height="5" fill="#089981"/>
<rect x="570" y="693" width="5" height="4" fill="#089981"/>
<rect x="578" y="691" width="1" height="6" fill="#f23645"/>
<rect x="576" y="693" width="5" height="4" fill="#f23645"/>
<rect x="583" y="695" width="1" height="7" fill="#f23645"/>
<rect x="581" y="696" width="5" height="3" fill="#f23645"/>
<rect x="589" y="695" width="1" height="6" fill="#089981"/>
<rect x="587" y="695" width="5" height="4" fill="#089981"/>
<rect x="594" y="676" width="1" height="20" fill="#089981"/>
<rect x="592" y="684" width="5" height="12" fill="#089981"/>
<rect x="599" y="681" width="1" height="9" fill="#089981"/>
<rect x="597" y="682" width="5" height="3" fill="#089981"/>
<rect x="605" y="667" width="1" height="18" fill="#089981"/>
<rect x="603" y="673" width="5" height="10" fill="#089981"/>
<rect x="610" y="659" width="1" height="26" fill="#089981"/>
<rect x="608" y="669" width="5" height="5" fill="#089981"/>
<rect x="616" y="667" width="1" height="16" fill="#f23645"/>
<rect x="614" y="669" width="5" height="3" fill="#f23645"/>
<rect x="621" y="659" width="1" height="15" fill="#089981"/>
<rect x="619" y="662" width="5" height="11" fill="#089981"/>
<rect x="627" y="633" width="1" height="30" fill="#089981"/>
<rect x="625" y="639" width="5" height="24" fill="#089981"/>
<rect x="632" y="632" width="1" height="24" fill="#f23645"/>
<rect x="630" y="639" width="5" height="14" fill="#f23645"/>
<rect x="638" y="645" width="1" height="15" fill="#f23645"/>
<rect x="636" y="652" width="5" height="2" fill="#f23645"/>
<rect x="643" y="648" width="1" height="12" fill="#f23645"/>
<rect x="641" y="653" width="5" height="4" fill="#f23645"/>
<rect x="649" y="650" width="1" height="24" fill="#f23645"/>
<rect x="647" y="657" width="5" height="16" fill="#f23645"/>
<rect x="654" y="660" width="1" height="18" fill="#089981"/>
<rect x="652" y="670" width="5" height="3" fill="#089981"/>
<rect x="660" y="646" width="1" height="31" fill="#089981"/>
<rect x="658" y="662" width="5" height="9" fill="#089981"/>
<rect x="665" y="661" width="1" height="14" fill="#f23645"/>
<rect x="663" y="662" width="5" height="10" fill="#f23645"/>
<rect x="671" y="666" width="1" height="8" fill="#f23645"/>
<rect x="669" y="671" width="5" height="1" fill="#f23645"/>
<rect x="676" y="667" width="1" height="7" fill="#089981"/>
<rect x="674" y="668" width="5" height="5" fill="#089981"/>
<rect x="682" y="658" width="1" height="12" fill="#089981"/>
<rect x="680" y="663" width="5" height="6" fill="#089981"/>
<rect x="687" y="654" width="1" height="12" fill="#089981"/>
<rect x="685" y="661" width="5" height="3" fill="#089981"/>
<rect x="693" y="563" width="1" height="101" fill="#089981"/>
<rect x="691" y="568" width="5" height="95" fill="#089981"/>
<rect x="698" y="490" width="1" height="116" fill="#089981"/>
<rect x="696" y="544" width="5" height="24" fill="#089981"/>
<rect x="704" y="513" width="1" height="78" fill="#f23645"/>
<rect x="702" y="544" width="5" height="24" fill="#f23645"/>
<rect x="709" y="531" width="1" height="79" fill="#089981"/>
<rect x="707" y="536" width="5" height="32" fill="#089981"/>
<rect x="715" y="463" width="1" height="81" fill="#089981"/>
<rect x="713" y="475" width="5" height="62" fill="#089981"/>
<rect x="720" y="475" width="1" height="73" fill="#f23645"/>
<rect x="718" y="475" width="5" height="31" fill="#f23645"/>
<rect x="726" y="491" width="1" height="109" fill="#f23645"/>
<rect x="724" y="505" width="5" height="51" fill="#f23645"/>
<rect x="731" y="546" width="1" height="42" fill="#f23645"/>
<rect x="729" y="555" width="5" height="6" fill="#f23645"/>
<rect x="736" y="552" width="1" height="31" fill="#f23645"/>
<rect x="734" y="561" width="5" height="16" fill="#f23645"/>
<rect x="742" y="544" width="1" height="70" fill="#089981"/>
<rect x="740" y="557" width="5" height="20" fill="#089981"/>
<rect x="747" y="546" width="1" height="41" fill="#f23645"/>
<rect x="745" y="557" width="5" height="29" fill="#f23645"/>
<rect x="753" y="560" width="1" height="32" fill="#089981"/>
<rect x="751" y="575" width="5" height="11" fill="#089981"/>
<rect x="758" y="538" width="1" height="38" fill="#089981"/>
<rect x="756" y="550" width="5" height="26" fill="#089981"/>
<rect x="764" y="540" width="1" height="27" fill="#f23645"/>
<rect x="762" y="550" width="5" height="14" fill="#f23645"/>
<rect x="769" y="551" width="1" height="36" fill="#f23645"/>
<rect x="767" y="563" width="5" height="14" fill="#f23645"/>
<rect x="775" y="572" width="1" height="26" fill="#f23645"/>
<rect x="773" y="577" width="5" height="14" fill="#f23645"/>
<rect x="780" y="588" width="1" height="35" fill="#f23645"/>
<rect x="778" y="590" width="5" height="21" fill="#f23645"/>
<rect x="786" y="602" width="1" height="21" fill="#089981"/>
<rect x="784" y="608" width="5" height="4" fill="#089981"/>
<rect x="791" y="604" width="1" height="50" fill="#f23645"/>
<rect x="789" y="608" width="5" height="28" fill="#f23645"/>
<rect x="797" y="618" width="1" height="26" fill="#089981"/>
<rect x="795" y="621" width="5" height="15" fill="#089981"/>
<rect x="802" y="581" width="1" height="41" fill="#089981"/>
<rect x="800" y="586" width="5" height="36" fill="#089981"/>
<rect x="808" y="583" width="1" height="31" fill="#f23645"/>
<rect x="806" y="586" width="5" height="14" fill="#f23645"/>
<rect x="813" y="593" width="1" height="51" fill="#f23645"/>
<rect x="811" y="600" width="5" height="38" fill="#f23645"/>
<rect x="819" y="627" width="1" height="41" fill="#f23645"/>
<rect x="817" y="637" width="5" height="5" fill="#f23645"/>
<rect x="824" y="629" width="1" height="15" fill="#f23645"/>
<rect x="822" y="641" width="5" height="1" fill="#f23645"/>
<rect x="830" y="620" width="1" height="24" fill="#089981"/>
<rect x="828" y="629" width="5" height="14" fill="#089981"/>
<rect x="835" y="628" width="1" height="22" fill="#f23645"/>
<rect x="833" y="629" width="5" height="20" fill="#f23645"/>
<rect x="841" y="641" width="1" height="16" fill="#089981"/>
<rect x="839" y="647" width="5" height="2" fill="#089981"/>
<rect x="846" y="630" width="1" height="18" fill="#089981"/>
<rect x="844" y="638" width="5" height="9" fill="#089981"/>
<rect x="852" y="627" width="1" height="17" fill="#089981"/>
<rect x="850" y="633" width="5" height="5" fill="#089981"/>
<rect x="857" y="597" width="1" height="38" fill="#089981"/>
<rect x="855" y="608" width="5" height="26" fill="#089981"/>
<rect x="863" y="608" width="1" height="32" fill="#f23645"/>
<rect x="861" y="608" width="5" height="19" fill="#f23645"/>
<rect x="868" y="620" width="1" height="18" fill="#f23645"/>
<rect x="866" y="626" width="5" height="1" fill="#f23645"/>
<rect x="874" y="577" width="1" height="52" fill="#089981"/>
<rect x="872" y="583" width="5" height="44" fill="#089981"/>
<rect x="879" y="573" width="1" height="31" fill="#089981"/>
<rect x="877" y="581" width="5" height="3" fill="#089981"/>
<rect x="884" y="531" width="1" height="53" fill="#089981"/>
<rect x="882" y="571" width="5" height="11" fill="#089981"/>
<rect x="890" y="366" width="1" height="209" fill="#089981"/>
<rect x="888" y="395" width="5" height="177" fill="#089981"/>
<rect x="895" y="171" width="1" height="231" fill="#089981"/>
<rect x="893" y="271" width="5" height="125" fill="#089981"/>
<rect x="901" y="113" width="1" height="171" fill="#089981"/>
<rect x="899" y="183" width="5" height="89" fill="#089981"/>
<rect x="906" y="156" width="1" height="119" fill="#089981"/>
<rect x="904" y="169" width="5" height="15" fill="#089981"/>
<rect x="912" y="108" width="1" height="134" fill="#089981"/>
<rect x="910" y="133" width="5" height="37" fill="#089981"/>
<rect x="917" y="131" width="1" height="143" fill="#f23645"/>
<rect x="915" y="132" width="5" height="85" fill="#f23645"/>
<rect x="923" y="205" width="1" height="213" fill="#f23645"/>
<rect x="921" y="216" width="5" height="132" fill="#f23645"/>
<rect x="928" y="306" width="1" height="55" fill="#089981"/>
<rect x="926" y="345" width="5" height="3" fill="#089981"/>
<rect x="934" y="227" width="1" height="129" fill="#089981"/>
<rect x="932" y="250" width="5" height="96" fill="#089981"/>
<rect x="939" y="228" width="1" height="116" fill="#f23645"/>
<rect x="937" y="250" width="5" height="66" fill="#f23645"/>
<rect x="945" y="178" width="1" height="172" fill="#089981"/>
<rect x="943" y="284" width="5" height="32" fill="#089981"/>
<rect x="950" y="223" width="1" height="93" fill="#f23645"/>
<rect x="948" y="284" width="5" height="31" fill="#f23645"/>
<rect x="956" y="306" width="1" height="128" fill="#f23645"/>
<rect x="954" y="314" width="5" height="96" fill="#f23645"/>
<rect x="961" y="374" width="1" height="128" fill="#f23645"/>
<rect x="959" y="409" width="5" height="27" fill="#f23645"/>
<rect x="967" y="383" width="1" height="62" fill="#089981"/>
<rect x="965" y="412" width="5" height="24" fill="#089981"/>
<rect x="972" y="407" width="1" height="49" fill="#f23645"/>
<rect x="970" y="412" width="5" height="33" fill="#f23645"/>
<rect x="978" y="442" width="1" height="87" fill="#f23645"/>
<rect x="976" y="444" width="5" height="4" fill="#f23645"/>
<rect x="983" y="447" width="1" height="104" fill="#f23645"/>
<rect x="981" y="448" width="5" height="101" fill="#f23645"/>
<rect x="989" y="530" width="1" height="53" fill="#089981"/>
<rect x="987" y="547" width="5" height="1" fill="#089981"/>
<rect x="994" y="532" width="1" height="22" fill="#089981"/>
<rect x="992" y="541" width="5" height="7" fill="#089981"/>
<rect x="1000" y="495" width="1" height="57" fill="#f23645"/>
<rect x="998" y="541" width="5" height="10" fill="#f23645"/>
<rect x="1005" y="531" width="1" height="46" fill="#f23645"/>
<rect x="1003" y="550" width="5" height="25" fill="#f23645"/>
<rect x="1011" y="545" width="1" height="56" fill="#089981"/>
<rect x="1009" y="555" width="5" height="20" fill="#089981"/>
<rect x="1016" y="545" width="1" height="27" fill="#f23645"/>
<rect x="1014" y="555" width="5" height="11" fill="#f23645"/>
<rect x="1021" y="513" width="1" height="53" fill="#089981"/>
<rect x="1019" y="532" width="5" height="34" fill="#089981"/>
<rect x="1027" y="525" width="1" height="24" fill="#f23645"/>
<rect x="1025" y="532" width="5" height="13" fill="#f23645"/>
<rect x="1032" y="420" width="1" height="133" fill="#089981"/>
<rect x="1030" y="459" width="5" height="86" fill="#089981"/>
<rect x="1038" y="429" width="1" height="59" fill="#089981"/>
<rect x="1036" y="457" width="5" height="3" fill="#089981"/>
<rect x="1043" y="428" width="1" height="56" fill="#f23645"/>
<rect x="1041" y="457" width="5" height="12" fill="#f23645"/>
<rect x="1049" y="458" width="1" height="65" fill="#f23645"/>
<rect x="1047" y="468" width="5" height="44" fill="#f23645"/>
<rect x="1054" y="502" width="1" height="45" fill="#f23645"/>
<rect x="1052" y="512" width="5" height="14" fill="#f23645"/>
<rect x="1060" y="494" width="1" height="51" fill="#f23645"/>
<rect x="1058" y="525" width="5" height="13" fill="#f23645"/>
<rect x="1065" y="529" width="1" height="54" fill="#f23645"/>
<rect x="1063" y="537" width="5" height="34" fill="#f23645"/>
<rect x="1071" y="544" width="1" height="29" fill="#089981"/>
<rect x="1069" y="545" width="5" height="26" fill="#089981"/>
<rect x="1076" y="537" width="1" height="25" fill="#089981"/>
<rect x="1074" y="542" width="5" height="4" fill="#089981"/>
<rect x="1082" y="484" width="1" height="67" fill="#089981"/>
<rect x="1080" y="505" width="5" height="38" fill="#089981"/>
<rect x="1087" y="394" width="1" height="125" fill="#089981"/>
<rect x="1085" y="401" width="5" height="104" fill="#089981"/>
<rect x="1093" y="381" width="1" height="93" fill="#f23645"/>
<rect x="1091" y="401" width="5" height="47" fill="#f23645"/>
<rect x="1098" y="436" width="1" height="83" fill="#f23645"/>
<rect x="1096" y="447" width="5" height="59" fill="#f23645"/>
<rect x="1104" y="438" width="1" height="71" fill="#089981"/>
<rect x="1102" y="456" width="5" height="50" fill="#089981"/>
<rect x="1109" y="426" width="1" height="53" fill="#089981"/>
<rect x="1107" y="454" width="5" height="2" fill="#089981"/>
<rect x="1115" y="441" width="1" height="51" fill="#f23645"/>
<rect x="1113" y="455" width="5" height="5" fill="#f23645"/>
<rect x="1120" y="455" width="1" height="40" fill="#f23645"/>
<rect x="1118" y="459" width="5" height="26" fill="#f23645"/>
<rect x="1126" y="462" width="1" height="34" fill="#089981"/>
<rect x="1124" y="463" width="5" height="22" fill="#089981"/>
<rect x="1131" y="354" width="1" height="112" fill="#089981"/>
<rect x="1129" y="395" width="5" height="69" fill="#089981"/>
<rect x="1137" y="380" width="1" height="44" fill="#f23645"/>
<rect x="1135" y="395" width="5" height="25" fill="#f23645"/>
<rect x="1142" y="416" width="1" height="58" fill="#f23645"/>
<rect x="1140" y="419" width="5" height="33" fill="#f23645"/>
<rect x="1148" y="412" width="1" height="54" fill="#089981"/>
<rect x="1146" y="430" width="5" height="22" fill="#089981"/>
<rect x="1153" y="405" width="1" height="167" fill="#f23645"/>
<rect x="1151" y="430" width="5" height="64" fill="#f23645"/>
<rect x="1159" y="477" width="1" height="60" fill="#f23645"/>
<rect x="1157" y="493" width="5" height="17" fill="#f23645"/>
<rect x="1164" y="493" width="1" height="31" fill="#089981"/>
<rect x="1162" y="495" width="5" height="15" fill="#089981"/>
<rect x="1169" y="490" width="1" height="46" fill="#f23645"/>
<rect x="1167" y="495" width="5" height="28" fill="#f23645"/>
<rect x="1175" y="521" width="1" height="48" fill="#f23645"/>
<rect x="1173" y="522" width="5" height="11" fill="#f23645"/>
<rect x="1180" y="522" width="1" height="45" fill="#f23645"/>
<rect x="1178" y="532" width="5" height="30" fill="#f23645"/>
<rect x="1186" y="552" width="1" height="44" fill="#f23645"/>
<rect x="1184" y="561" width="5" height="20" fill="#f23645"/>
<rect x="1191" y="564" width="1" height="18" fill="#089981"/>
<rect x="1189" y="578" width="5" height="3" fill="#089981"/>
<rect x="1197" y="568" width="1" height="30" fill="#089981"/>
<rect x="1195" y="575" width="5" height="4" fill="#089981"/>
</g>
<text x="1727.62" y="91.8" font-size="15.3" fill="#131722" stroke="#131722" stroke-width="0.3" textLength="53.35" lengthAdjust="spacingAndGlyphs">0.50000</text>
<text x="1727.62" y="161.3" font-size="15.3" fill="#131722" stroke="#131722" stroke-width="0.3" textLength="53.35" lengthAdjust="spacingAndGlyphs">0.45000</text>
<text x="1727.62" y="230.8" font-size="15.3" fill="#131722" stroke="#131722" stroke-width="0.3" textLength="53.35" lengthAdjust="spacingAndGlyphs">0.40000</text>
<text x="1727.62" y="300.3" font-size="15.3" fill="#131722" stroke="#131722" stroke-width="0.3" textLength="53.35" lengthAdjust="spacingAndGlyphs">0.35000</text>
<text x="1727.62" y="369.8" font-size="15.3" fill="#131722" stroke="#131722" stroke-width="0.3" textLength="53.35" lengthAdjust="spacingAndGlyphs">0.30000</text>
<text x="1727.62" y="439.4" font-size="15.3" fill="#131722" stroke="#131722" stroke-width="0.3" textLength="53.35" lengthAdjust="spacingAndGlyphs">0.25000</text>
<text x="1727.62" y="647.9" font-size="15.3" fill="#131722" stroke="#131722" stroke-width="0.3" textLength="53.35" lengthAdjust="spacingAndGlyphs">0.10000</text>
<text x="1727.62" y="717.4" font-size="15.3" fill="#131722" stroke="#131722" stroke-width="0.3" textLength="53.35" lengthAdjust="spacingAndGlyphs">0.05000</text>
<rect x="1722" y="39" width="74" height="31.5" rx="5" ry="5" fill="#ffffff"/>
<text x="1732.61" y="59.4" font-size="15.3" fill="#131722" stroke="#131722" stroke-width="0.3" textLength="27.21" lengthAdjust="spacingAndGlyphs">USD</text>
<path d="M1718.00 490.50 H1785.50 Q1788.00 490.50 1788.00 493.00 V509.00 Q1788.00 511.50 1785.50 511.50 H1718.00 V490.50 Z" fill="#2962ff"/>
<text x="1728.74" y="506.2" font-size="15.3" fill="#ffffff" stroke="#ffffff" stroke-width="0.3" textLength="52.07" lengthAdjust="spacingAndGlyphs">0.20241</text>
<path d="M1718.00 523.00 H1785.50 Q1788.00 523.00 1788.00 525.50 V563.00 Q1788.00 565.50 1785.50 565.50 H1718.00 V523.00 Z" fill="#22ab94"/>
<text x="1728.74" y="539.5" font-size="15.3" fill="#ffffff" stroke="#ffffff" stroke-width="0.3" textLength="52.07" lengthAdjust="spacingAndGlyphs">0.15811</text>
<text x="1728.72" y="560.2" font-size="15.3" fill="#ffffff" stroke="#ffffff" stroke-width="0.3" textLength="53.21" lengthAdjust="spacingAndGlyphs">0.15388</text>
<path d="M1718.00 565.50 H1785.50 Q1788.00 565.50 1788.00 568.00 V602.00 Q1788.00 604.50 1785.50 604.50 H1718.00 V565.50 Z" fill="#f23645"/>
<text x="1728.74" y="581.2" font-size="15.3" fill="#ffffff" stroke="#ffffff" stroke-width="0.3" textLength="52.07" lengthAdjust="spacingAndGlyphs">0.14811</text>
<text x="1728.76" y="599.2" font-size="15.3" fill="#ffffff" stroke="#ffffff" stroke-width="0.3" textLength="44.79" lengthAdjust="spacingAndGlyphs" fill-opacity="0.8">4d 10h</text>
<path d="M1645.70 565.20 H1717.00 V585.90 H1645.70 Q1643.20 585.90 1643.20 583.40 V567.70 Q1643.20 565.20 1645.70 565.20 Z" fill="#f23645"/>
<text x="1647.16" y="580.8" font-size="15.3" fill="#ffffff" stroke="#ffffff" stroke-width="0.3" textLength="64.05" lengthAdjust="spacingAndGlyphs">DOGEUSD</text>
<path d="M1718.00 752.60 H1790.50 Q1793.00 752.60 1793.00 755.10 V769.70 Q1793.00 772.20 1790.50 772.20 H1718.00 V752.60 Z" fill="#26a69a"/>
<text x="1728.90" y="768.6" font-size="15.3" fill="#ffffff" stroke="#ffffff" stroke-width="0.3" textLength="45.54" lengthAdjust="spacingAndGlyphs">547.98</text>
<text x="1774.90" y="768.6" font-size="15.3" fill="#ffffff" stroke="#ffffff" stroke-width="0.3" textLength="13.20" lengthAdjust="spacingAndGlyphs">M</text>
<rect x="1717" y="772" width="85" height="1" fill="#ffffff"/>
<text x="61.96" y="796.1" font-size="15.4" fill="#000000" font-weight="bold" textLength="34.66" lengthAdjust="spacingAndGlyphs">2022</text>
<text x="211.25" y="795.6" font-size="15.3" fill="#131722" stroke="#131722" stroke-width="0.3" textLength="20.20" lengthAdjust="spacingAndGlyphs">Jul</text>
<text x="346.96" y="796.1" font-size="15.4" fill="#000000" font-weight="bold" textLength="34.60" lengthAdjust="spacingAndGlyphs">2023</text>
<text x="496.25" y="795.6" font-size="15.3" fill="#131722" stroke="#131722" stroke-width="0.3" textLength="20.20" lengthAdjust="spacingAndGlyphs">Jul</text>
<text x="631.97" y="796.1" font-size="15.4" fill="#000000" font-weight="bold" textLength="34.11" lengthAdjust="spacingAndGlyphs">2024</text>
<text x="781.25" y="795.6" font-size="15.3" fill="#131722" stroke="#131722" stroke-width="0.3" textLength="20.20" lengthAdjust="spacingAndGlyphs">Jul</text>
<text x="921.96" y="796.1" font-size="15.4" fill="#000000" font-weight="bold" textLength="34.47" lengthAdjust="spacingAndGlyphs">2025</text>
<text x="1072.25" y="795.6" font-size="15.3" fill="#131722" stroke="#131722" stroke-width="0.3" textLength="20.20" lengthAdjust="spacingAndGlyphs">Jul</text>
<text x="1206.96" y="796.1" font-size="15.4" fill="#000000" font-weight="bold" textLength="34.60" lengthAdjust="spacingAndGlyphs">2026</text>
<text x="1357.25" y="795.6" font-size="15.3" fill="#131722" stroke="#131722" stroke-width="0.3" textLength="20.20" lengthAdjust="spacingAndGlyphs">Jul</text>
<text x="1491.96" y="796.1" font-size="15.4" fill="#000000" font-weight="bold" textLength="34.73" lengthAdjust="spacingAndGlyphs">2027</text>
<text x="1642.25" y="795.6" font-size="15.3" fill="#131722" stroke="#131722" stroke-width="0.3" textLength="20.20" lengthAdjust="spacingAndGlyphs">Jul</text>
<text x="22.98" y="58.95" font-size="15.4" fill="#131722" stroke="#131722" stroke-width="0.3" textLength="138.87" lengthAdjust="spacingAndGlyphs">Dogecoin / US Dollar</text>
<text x="169.20" y="58.95" font-size="15.4" fill="#131722" stroke="#131722" stroke-width="0.3" text-anchor="middle">·</text>
<text x="176.47" y="58.95" font-size="15.4" fill="#131722" stroke="#131722" stroke-width="0.3" textLength="20.38" lengthAdjust="spacingAndGlyphs">1W</text>
<text x="204.30" y="58.95" font-size="15.4" fill="#131722" stroke="#131722" stroke-width="0.3" text-anchor="middle">·</text>
<text x="211.58" y="58.95" font-size="15.4" fill="#131722" stroke="#131722" stroke-width="0.3" textLength="60.05" lengthAdjust="spacingAndGlyphs">Coinbase</text>
<text x="280.23" y="58.95" font-size="15.4" fill="#131722" stroke="#131722" stroke-width="0.3" textLength="10.94" lengthAdjust="spacingAndGlyphs">O</text>
<text x="290.82" y="58.95" font-size="15.4" fill="#089981" stroke="#089981" stroke-width="0.3" textLength="53.21" lengthAdjust="spacingAndGlyphs">0.14598</text>
<text x="352.14" y="58.95" font-size="15.4" fill="#131722" stroke="#131722" stroke-width="0.3" textLength="11.12" lengthAdjust="spacingAndGlyphs">H</text>
<text x="362.32" y="58.95" font-size="15.4" fill="#089981" stroke="#089981" stroke-width="0.3" textLength="53.31" lengthAdjust="spacingAndGlyphs">0.15294</text>
<text x="423.85" y="58.95" font-size="15.4" fill="#131722" stroke="#131722" stroke-width="0.3" textLength="8.45" lengthAdjust="spacingAndGlyphs">L</text>
<text x="431.73" y="58.95" font-size="15.4" fill="#089981" stroke="#089981" stroke-width="0.3" textLength="53.02" lengthAdjust="spacingAndGlyphs">0.13186</text>
<text x="493.03" y="58.95" font-size="15.4" fill="#131722" stroke="#131722" stroke-width="0.3" textLength="9.46" lengthAdjust="spacingAndGlyphs">C</text>
<text x="502.24" y="58.95" font-size="15.4" fill="#089981" stroke="#089981" stroke-width="0.3" textLength="52.17" lengthAdjust="spacingAndGlyphs">0.14811</text>
<text x="564.30" y="58.95" font-size="15.4" fill="#089981" stroke="#089981" stroke-width="0.3" textLength="122.59" lengthAdjust="spacingAndGlyphs">+0.00214 (+1.47%)</text>
<text x="23.14" y="79.8" font-size="15.4" fill="#131722" stroke="#131722" stroke-width="0.3" textLength="20.83" lengthAdjust="spacingAndGlyphs">Vol</text>
<text x="50.30" y="79.8" font-size="15.4" fill="#131722" stroke="#131722" stroke-width="0.3" text-anchor="middle">·</text>
<text x="57.65" y="79.8" font-size="15.4" fill="#131722" stroke="#131722" stroke-width="0.3" textLength="37.70" lengthAdjust="spacingAndGlyphs">DOGE</text>
<text x="104.11" y="79.8" font-size="15.4" fill="#26a69a" stroke="#26a69a" stroke-width="0.3" textLength="45.23" lengthAdjust="spacingAndGlyphs">547.98</text>
<text x="150.55" y="79.8" font-size="15.4" fill="#26a69a" stroke="#26a69a" stroke-width="0.3" textLength="12.70" lengthAdjust="spacingAndGlyphs">M</text>
<text x="23.14" y="121.6" font-size="15.4" fill="#131722" stroke="#131722" stroke-width="0.3" textLength="20.83" lengthAdjust="spacingAndGlyphs">Vol</text>
<text x="50.30" y="121.6" font-size="15.4" fill="#131722" stroke="#131722" stroke-width="0.3" text-anchor="middle">·</text>
<text x="57.65" y="121.6" font-size="15.4" fill="#131722" stroke="#131722" stroke-width="0.3" textLength="37.70" lengthAdjust="spacingAndGlyphs">DOGE</text>
<text x="104.11" y="121.6" font-size="15.4" fill="#26a69a" stroke="#26a69a" stroke-width="0.3" textLength="45.23" lengthAdjust="spacingAndGlyphs">547.98</text>
<text x="150.55" y="121.6" font-size="15.4" fill="#26a69a" stroke="#26a69a" stroke-width="0.3" textLength="12.70" lengthAdjust="spacingAndGlyphs">M</text>
<text x="22.41" y="100.8" font-size="15.4" fill="#131722" stroke="#131722" stroke-width="0.3" textLength="103.60" lengthAdjust="spacingAndGlyphs">EMA (50, close)</text>
<text x="134.54" y="100.8" font-size="15.4" fill="#2962ff" stroke="#2962ff" stroke-width="0.3" textLength="52.07" lengthAdjust="spacingAndGlyphs">0.20241</text>
<g>
<circle cx="1197.5" cy="725.2" r="14.2" fill="#ffffff"/>
<circle cx="1197.5" cy="725.2" r="12.6" fill="#ffffff" stroke="#9c27b0" stroke-width="1.9"/>
<path d="M1201.9 718.7 L1191.6 726.5 L1197.6 726.0 L1193.6 732.1 L1204.0 724.2 L1197.9 724.8 Z" fill="#9c27b0"/>
<path d="M1184.3 722.9 Q1185.2 729.0 1191.4 730.0 Q1185.2 731.0 1184.3 737.1 Q1183.4 731.0 1177.2 730.0 Q1183.4 729.0 1184.3 722.9 Z" fill="#7c4dff" stroke="#ffffff" stroke-width="2.2" stroke-linejoin="round" paint-order="stroke"/>
<circle cx="1197.3" cy="756.5" r="14.2" fill="#ffffff"/>
<g clip-path="url(#flagclip)">
<rect x="1186" y="745" width="23" height="24" fill="#f5f7fa"/>
<rect x="1186" y="746.6" width="23" height="4.2" fill="#ef5350"/>
<rect x="1186" y="754.9" width="23" height="4.2" fill="#ef5350"/>
<rect x="1186" y="762.8" width="23" height="4.2" fill="#ef5350"/>
<rect x="1186" y="745" width="12.9" height="14.0" fill="#1e88e5"/>
<rect x="1189.6" y="749.8" width="1.4" height="1.4" fill="#ffffff"/>
<rect x="1192.8" y="749.8" width="1.4" height="1.4" fill="#ffffff"/>
<rect x="1196.0" y="749.8" width="1.4" height="1.4" fill="#ffffff"/>
<rect x="1189.6" y="753.0" width="1.4" height="1.4" fill="#ffffff"/>
<rect x="1192.8" y="753.0" width="1.4" height="1.4" fill="#ffffff"/>
<rect x="1196.0" y="753.0" width="1.4" height="1.4" fill="#ffffff"/>
<rect x="1189.6" y="756.2" width="1.4" height="1.4" fill="#ffffff"/>
<rect x="1192.8" y="756.2" width="1.4" height="1.4" fill="#ffffff"/>
<rect x="1196.0" y="756.2" width="1.4" height="1.4" fill="#ffffff"/>
</g>
<circle cx="1197.3" cy="756.5" r="12.8" fill="none" stroke="#f23645" stroke-width="1.8"/>
</g>
<g fill="#0f0f0f">
<path d="M15.2 835.4 H30.7 V853.9 H23.1 V843.1 H15.2 Z"/>
<circle cx="36.8" cy="838.9" r="3.6"/>
<path d="M43.7 835.4 H52.9 L45.6 853.9 H37 Z"/>
</g>
<text x="62.02" y="853.9" font-size="26.4" fill="#0f0f0f" font-weight="bold" textLength="150.64" lengthAdjust="spacingAndGlyphs" stroke="#0f0f0f" stroke-width="0.5">TradingView</text>
</svg>
</body></html>
